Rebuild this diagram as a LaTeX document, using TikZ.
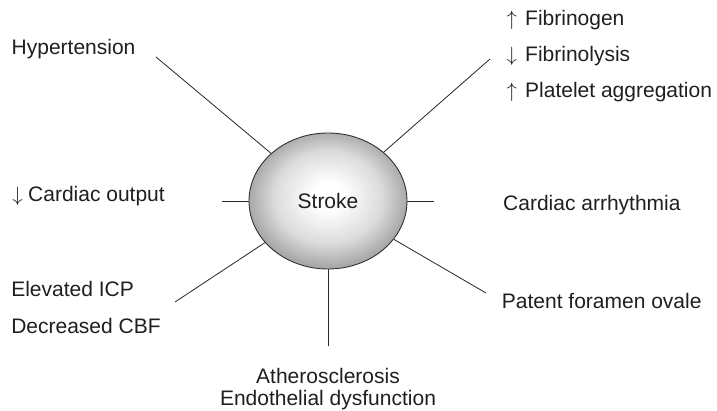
\documentclass[tikz,border=0pt]{standalone}
\usepackage{fontspec}
\setmainfont{Liberation Sans}
\usetikzlibrary{shapes.geometric}
\pgfdeclareradialshading{hubshade}{\pgfpoint{0bp}{2bp}}{%
  color(0bp)=(white); color(5bp)=(white); color(17bp)=(black!14);
  color(25bp)=(black!34); color(50bp)=(black!34)}
\begin{document}
\begin{tikzpicture}[x=1pt,y=-1pt,
  lbl/.style={anchor=base west,inner sep=0pt,text=black!88,font=\fontsize{21}{25}\selectfont},
  clbl/.style={lbl,anchor=base},
  conn/.style={draw=black!85,line width=0.8pt},
  hub/.style={ellipse,draw=black!80,line width=0.9pt,minimum width=158pt,minimum height=136pt,
    inner sep=0pt,shading=hubshade,text=black!88,
    font=\fontsize{21}{25}\selectfont}]
\useasboundingbox (0,0) rectangle (717,411);
\node[hub] (stroke) at (328,201) {Stroke};
% labels
\node[lbl] (hyp) at (11.5,55) {Hypertension};
\node[lbl] (fib1) at (506.5,26) {\makebox[18.5pt][l]{$\uparrow$}Fibrinogen};
\node[lbl] (fib2) at (506.5,61.7) {\makebox[18.5pt][l]{$\downarrow$}Fibrinolysis};
\node[lbl] (fib3) at (506.5,98) {\makebox[18.5pt][l]{$\uparrow$}Platelet aggregation};
\node[lbl] (cout) at (12.2,201.7) {\makebox[15.8pt][l]{$\downarrow$}Cardiac output};
\node[lbl] (arr) at (503,210.7) {Cardiac arrhythmia};
\node[lbl] (icp) at (11.1,296.7) {Elevated ICP};
\node[lbl] (cbf) at (11.1,333.3) {Decreased CBF};
\node[lbl] (pfo) at (501.7,309) {Patent foramen ovale};
\node[clbl] (ath) at (328,383.3) {Atherosclerosis};
\node[clbl] (endo) at (328,405) {Endothelial dysfunction};
% connector free ends
\coordinate (eh) at (156,57);
\coordinate (ef) at (490,59);
\coordinate (eco) at (222,201);
\coordinate (eca) at (434,201);
\coordinate (ell) at (175,302);
\coordinate (elr) at (486,293);
\coordinate (eb) at (328,346);
\foreach \e in {eh,ef,eco,eca,ell,elr,eb}
  \draw[conn] (\e) -- (stroke);
\end{tikzpicture}
\end{document}
